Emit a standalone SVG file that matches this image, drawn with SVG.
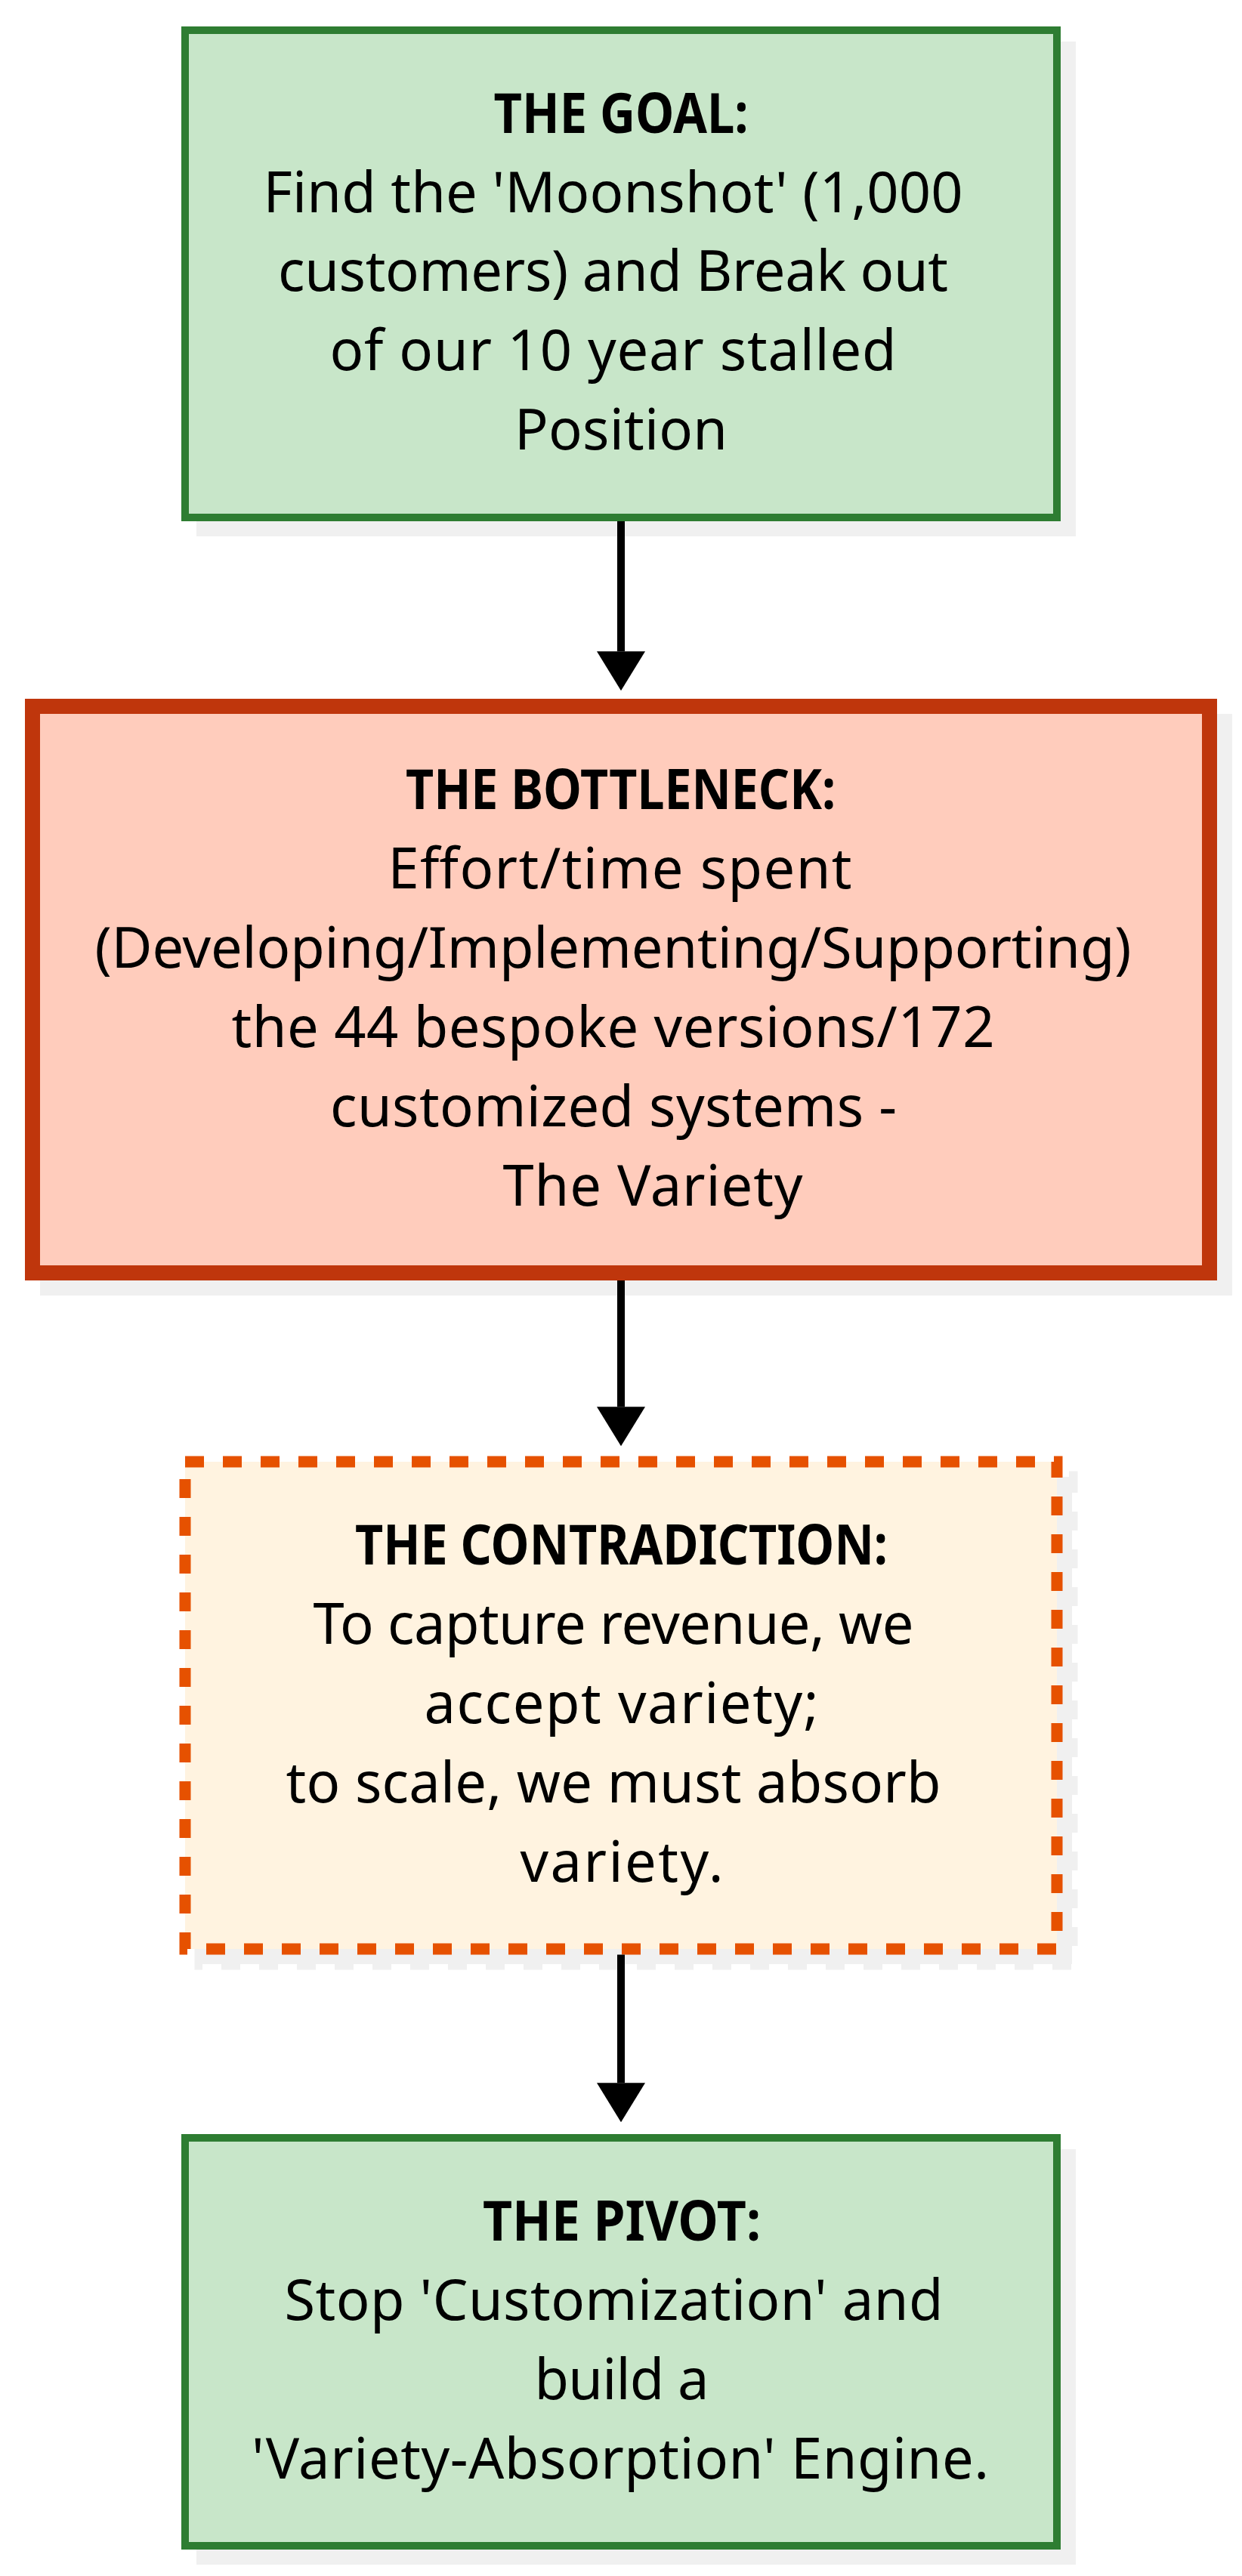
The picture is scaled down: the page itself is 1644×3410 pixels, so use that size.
<svg xmlns="http://www.w3.org/2000/svg" width="1644" height="3410" viewBox="0 0 1644 3410">
<defs>
<style>
.bg{fill:#ffffff}
.shadow{fill:#f0f0f0;stroke:#f0f0f0}
.green{fill:#c8e6c9;stroke:#2e7d32;stroke-width:10}
.red{fill:#ffccbc;stroke:#bf360c;stroke-width:20}
.dash{fill:#fff3e0;stroke:#e65100;stroke-width:15;stroke-dasharray:25 25}
.t{font-family:"Noto Sans","Open Sans","Liberation Sans",sans-serif;font-size:74px;fill:#000;text-anchor:middle}
.h{font-weight:bold}
.edge{stroke:#000;stroke-width:10;fill:none}
</style>
<marker id="arr" markerUnits="userSpaceOnUse" viewBox="0 0 52 64" refX="0" refY="32" markerWidth="52" markerHeight="64" orient="auto">
<path d="M0,0 L52,32 L0,64 Z" fill="#000"/>
</marker>
</defs>
<rect class="bg" x="0" y="0" width="1644" height="3410"/>

<g id="goal">
<rect class="shadow" x="265" y="60" width="1154" height="645" stroke-width="10"/>
<rect class="green" x="245" y="40" width="1154" height="645"/>
<text class="t h" x="822" y="176" textLength="337" lengthAdjust="spacingAndGlyphs">THE GOAL:</text>
<text class="t" x="811.5" y="281" textLength="926" lengthAdjust="spacing">Find the 'Moonshot' (1,000</text>
<text class="t" x="811.5" y="385" textLength="887" lengthAdjust="spacing">customers) and Break out</text>
<text class="t" x="811.5" y="490" textLength="750" lengthAdjust="spacing">of our 10 year stalled</text>
<text class="t" x="822" y="595" textLength="282" lengthAdjust="spacing">Position</text>
</g>

<g id="bottleneck">
<rect class="shadow" x="63" y="955" width="1558" height="750" stroke-width="20"/>
<rect class="red" x="43" y="935" width="1558" height="750"/>
<text class="t h" x="821.5" y="1071" textLength="569" lengthAdjust="spacingAndGlyphs">THE BOTTLENECK:</text>
<text class="t" x="820.5" y="1176" textLength="614" lengthAdjust="spacing">Effort/time spent</text>
<text class="t" x="811.5" y="1281" textLength="1372" lengthAdjust="spacing">(Developing/Implementing/Supporting)</text>
<text class="t" x="811.5" y="1386" textLength="1010" lengthAdjust="spacing">the 44 bespoke versions/172</text>
<text class="t" x="812" y="1491" textLength="750" lengthAdjust="spacing">customized systems -</text>
<text class="t" x="864" y="1596" textLength="397" lengthAdjust="spacing">The Variety</text>
</g>

<g id="contradiction">
<rect class="shadow" x="265" y="1955" width="1154" height="645" stroke-width="15" stroke-dasharray="25 25"/>
<rect class="dash" x="245" y="1935" width="1154" height="645"/>
<text class="t h" x="822.5" y="2071" textLength="705" lengthAdjust="spacingAndGlyphs">THE CONTRADICTION:</text>
<text class="t" x="812" y="2176" textLength="795" lengthAdjust="spacing">To capture revenue, we</text>
<text class="t" x="822.5" y="2281" textLength="522" lengthAdjust="spacing">accept variety;</text>
<text class="t" x="812" y="2386" textLength="867" lengthAdjust="spacing">to scale, we must absorb</text>
<text class="t" x="823" y="2491" textLength="269" lengthAdjust="spacing">variety.</text>
</g>

<g id="pivot">
<rect class="shadow" x="265" y="2850" width="1154" height="540" stroke-width="10"/>
<rect class="green" x="245" y="2830" width="1154" height="540"/>
<text class="t h" x="823" y="2966" textLength="368" lengthAdjust="spacingAndGlyphs">THE PIVOT:</text>
<text class="t" x="812.5" y="3071" textLength="872" lengthAdjust="spacing">Stop 'Customization' and</text>
<text class="t" x="823" y="3176" textLength="231" lengthAdjust="spacing">build a</text>
<text class="t" x="821" y="3281" textLength="976" lengthAdjust="spacing">'Variety-Absorption' Engine.</text>
</g>

<g id="connectors">
<line class="edge" x1="822" y1="690" x2="822" y2="862.3" marker-end="url(#arr)"/>
<line class="edge" x1="822" y1="1695" x2="822" y2="1862.3" marker-end="url(#arr)"/>
<line class="edge" x1="822" y1="2587.5" x2="822" y2="2757.3" marker-end="url(#arr)"/>
</g>
</svg>
